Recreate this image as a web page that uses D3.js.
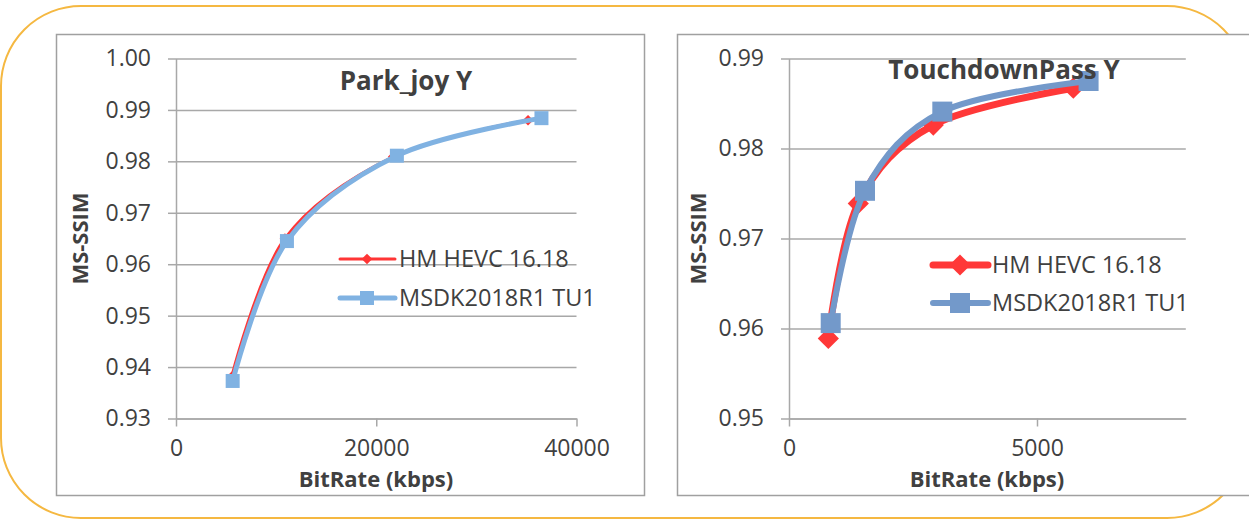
<!DOCTYPE html>
<html>
<head>
<meta charset="utf-8">
<script src="https://cdn.jsdelivr.net/npm/d3@7"></script>
<style>
  body { margin: 0; background: #fff; }
  text { font-family: "Open Sans", "Noto Sans", sans-serif; fill: #404040; }
</style>
</head>
<body>
<script>
// Park_joy Y
var parkRateHM = [5560, 10880, 21690, 35160];
var parkSsimHM = [0.9381, 0.9650, 0.9809, 0.9880];
var parkRateMS = [5660, 11080, 22060, 36500];
var parkSsimMS = [0.9373, 0.9645, 0.9811, 0.9884];
var parkYTicks = [0.93, 0.94, 0.95, 0.96, 0.97, 0.98, 0.99, 1.00];
var parkXTicks = [0, 20000, 40000];

// TouchdownPass Y
var tdRateHM = [793, 1397, 2909, 5732];
var tdSsimHM = [0.9589, 0.9739, 0.9826, 0.9867];
var tdRateMS = [841, 1532, 3091, 6040];
var tdSsimMS = [0.9606, 0.9753, 0.9841, 0.9875];
var tdYTicks = [0.95, 0.96, 0.97, 0.98, 0.99];
var tdXTicks = [0, 5000];

var seriesNames = ["HM HEVC 16.18", "MSDK2018R1 TU1"];

var W = 1249, H = 519;
var svg = d3.select("body").append("svg").attr("width", W).attr("height", H);

// yellow rounded outline behind everything
svg.append("rect")
    .attr("x", 1).attr("y", 6).attr("width", 1246).attr("height", 512)
    .attr("rx", 80).attr("ry", 80)
    .attr("fill", "none").attr("stroke", "#F5B841").attr("stroke-width", 2);

function zip(a, b) {
    return a.map(function (d, i) { return [d, b[i]]; });
}

function panel(p) {
    var g = svg.append("g");

    g.append("rect")
        .attr("x", p.frame[0]).attr("y", p.frame[1])
        .attr("width", p.frame[2]).attr("height", p.frame[3])
        .attr("fill", "#fff").attr("stroke", "#a0a0a0").attr("stroke-width", 1.5);

    var x = d3.scaleLinear().domain(p.xDomain).range([p.left, p.right]);
    var y = d3.scaleLinear().domain(p.yDomain).range([p.bottom, p.top]);

    // gridlines
    g.append("g")
        .attr("transform", "translate(" + p.left + ",0)")
        .call(d3.axisLeft(y).tickValues(p.yTicks).tickSize(-(p.right - p.left)).tickFormat(""))
        .call(function (s) {
            s.select(".domain").remove();
            s.selectAll("line").attr("stroke", "#a8a8a8").attr("stroke-width", 1.5);
        });

    // y axis
    g.append("g")
        .attr("transform", "translate(" + p.left + ",0)")
        .call(d3.axisLeft(y).tickValues(p.yTicks).tickSize(8).tickSizeOuter(0).tickPadding(17)
            .tickFormat(d3.format(".2f")))
        .call(function (s) {
            s.select(".domain").attr("stroke", "#a8a8a8").attr("stroke-width", 1.5);
            s.selectAll("line").attr("stroke", "#a8a8a8").attr("stroke-width", 1.5);
            s.selectAll("text").attr("font-size", 23).attr("fill", "#404040")
                .attr("font-family", "Open Sans");
        });

    // x axis
    g.append("g")
        .attr("transform", "translate(0," + p.bottom + ")")
        .call(d3.axisBottom(x).tickValues(p.xTicks).tickSize(8).tickSizeOuter(0).tickPadding(13)
            .tickFormat(d3.format("d")))
        .call(function (s) {
            s.select(".domain").attr("stroke", "#a8a8a8").attr("stroke-width", 1.5);
            s.selectAll("line").attr("stroke", "#a8a8a8").attr("stroke-width", 1.5);
            s.selectAll("text").attr("font-size", 23).attr("fill", "#404040")
                .attr("font-family", "Open Sans");
        });

    var line = d3.line()
        .x(function (d) { return x(d[0]); })
        .y(function (d) { return y(d[1]); })
        .curve(d3.curveCardinal.tension(0));

    p.series.forEach(function (s) {
        var pts = zip(s.rate, s.ssim);
        g.append("path").datum(pts)
            .attr("d", line)
            .attr("fill", "none").attr("stroke", s.color)
            .attr("stroke-width", s.width).attr("stroke-linejoin", "round");
        g.selectAll(null).data(pts).enter().append("path")
            .attr("d", d3.symbol().type(d3.symbolSquare).size(s.size * s.size))
            .attr("transform", function (d) {
                return "translate(" + x(d[0]) + "," + y(d[1]) + ")" + (s.diamond ? " rotate(45)" : "");
            })
            .attr("fill", s.color);
    });

    // legend
    p.series.forEach(function (s, i) {
        var ly = p.legend[1] + i * p.legendGap;
        g.append("line")
            .attr("x1", p.legend[0]).attr("x2", p.legend[0] + 55)
            .attr("y1", ly).attr("y2", ly)
            .attr("stroke", s.color).attr("stroke-width", s.width).attr("stroke-linecap", "round");
        g.append("path")
            .attr("d", d3.symbol().type(d3.symbolSquare).size(s.size * s.size))
            .attr("transform", "translate(" + (p.legend[0] + 27) + "," + ly + ")" + (s.diamond ? " rotate(45)" : ""))
            .attr("fill", s.color);
        g.append("text")
            .attr("x", p.legend[0] + 59).attr("y", ly).attr("dy", "0.36em")
            .attr("font-size", 23.5)
            .text(seriesNames[i]);
    });

    g.append("text")
        .attr("x", p.title[0]).attr("y", p.title[1])
        .attr("text-anchor", "middle").attr("font-size", 26).attr("font-weight", "bold")
        .text(p.titleText);

    g.append("text")
        .attr("transform", "translate(" + p.yTitleX + "," + ((p.top + p.bottom) / 2 + 0) + ") rotate(-90)")
        .attr("text-anchor", "middle").attr("dy", "0.36em")
        .attr("font-size", 22).attr("font-weight", "bold")
        .text("MS-SSIM");

    g.append("text")
        .attr("x", p.xTitleX).attr("y", 487)
        .attr("text-anchor", "middle").attr("font-size", 22).attr("font-weight", "bold")
        .text("BitRate (kbps)");
}

panel({
    frame: [56.5, 34.5, 588, 461],
    left: 176, right: 576.5, top: 58.5, bottom: 418.5,
    xDomain: [0, 40000], yDomain: [0.93, 1.00],
    xTicks: parkXTicks, yTicks: parkYTicks,
    titleText: "Park_joy Y", title: [406, 90],
    yTitleX: 80, xTitleX: 376,
    legend: [340, 259], legendGap: 39,
    series: [
        { rate: parkRateHM, ssim: parkSsimHM, color: "#FF3535", width: 3, size: 7.5, diamond: true },
        { rate: parkRateMS, ssim: parkSsimMS, color: "#80B2E2", width: 5, size: 14, diamond: false }
    ]
});

panel({
    frame: [677.5, 34.5, 600, 461],
    left: 789, right: 1185.8, top: 58.5, bottom: 418.5,
    xDomain: [0, 8000], yDomain: [0.95, 0.99],
    xTicks: tdXTicks, yTicks: tdYTicks,
    titleText: "TouchdownPass Y", title: [1004, 79],
    yTitleX: 698, xTitleX: 987,
    legend: [933, 265], legendGap: 38,
    series: [
        { rate: tdRateHM, ssim: tdSsimHM, color: "#FF3838", width: 7, size: 15, diamond: true },
        { rate: tdRateMS, ssim: tdSsimMS, color: "#7399CA", width: 6, size: 20, diamond: false }
    ]
});
</script>
</body>
</html>
